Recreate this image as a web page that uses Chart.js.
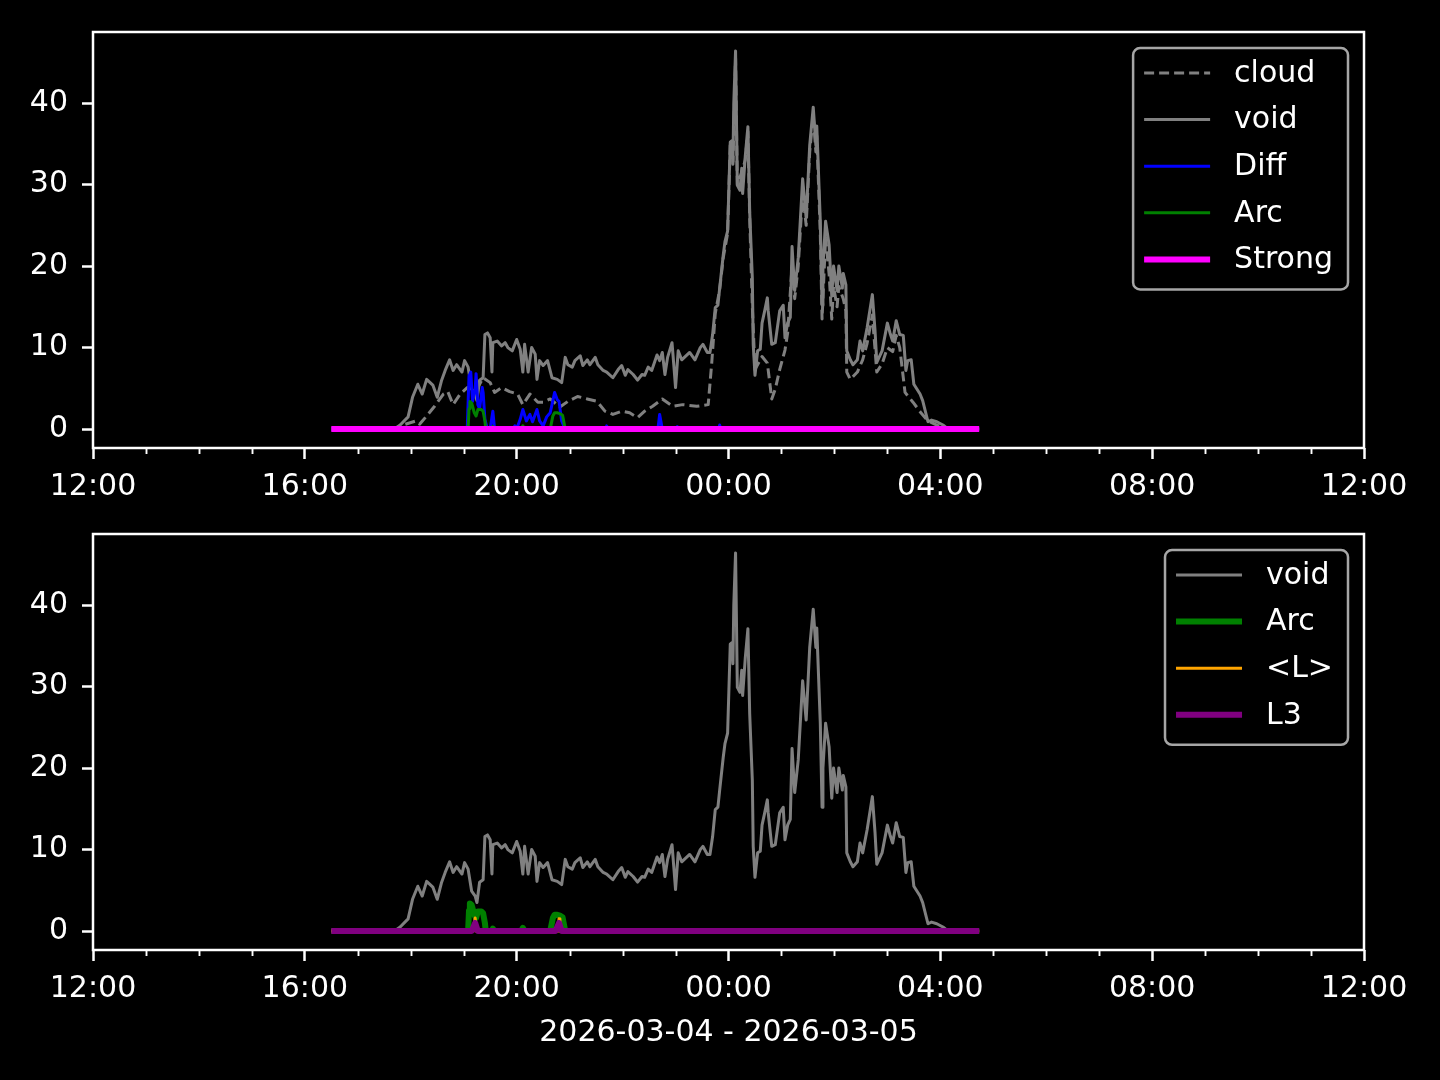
<!DOCTYPE html>
<html>
<head>
<meta charset="utf-8">
<script src="https://cdn.jsdelivr.net/npm/chart.js@4.4.1/dist/chart.umd.min.js"></script>
<style>
    html, body { margin: 0; padding: 0; background: #000; }
    #lienzo { position: relative; width: 1440px; height: 1080px; background: #000; overflow: hidden; }
    #graficoSuperior { position: absolute; left: 0; top: 0; }
    #graficoInferior { position: absolute; left: 0; top: 490px; }
</style>
</head>
<body>
<div id="lienzo">
    <canvas id="graficoSuperior" width="1440" height="520"></canvas>
    <canvas id="graficoInferior" width="1440" height="590"></canvas>
</div>
<script>
// Ejes
const xTickLabels = ['12:00', '16:00', '20:00', '00:00', '04:00', '08:00', '12:00'];
const yTicks = [0, 10, 20, 30, 40];
const xTitulo = '2026-03-04 - 2026-03-05';

// void
const voidTimes = ['16:30','17:38','17:44','17:48','17:57','18:02','18:08','18:13','18:18','18:22','18:25','18:30','18:35','18:39','18:44','18:48','18:52','18:58','19:01','19:05','19:09','19:13','19:15','19:18','19:22','19:24','19:27','19:30','19:32','19:33','19:38','19:43','19:47','19:50','19:55','20:00','20:04','20:07','20:09','20:13','20:17','20:21','20:23','20:26','20:30','20:35','20:40','20:46','20:51','20:55','20:58','21:03','21:06','21:12','21:15','21:20','21:23','21:29','21:32','21:38','21:42','21:49','21:55','21:59','22:03','22:06','22:12','22:17','22:22','22:25','22:29','22:33','22:39','22:42','22:45','22:48','22:51','22:56','22:58','23:00','23:03','23:07','23:13','23:16','23:22','23:28','23:31','23:36','23:39','23:42','23:45','23:48','23:50','23:54','23:56','23:59','00:02','00:04','00:05','00:06','00:08','00:10','00:13','00:15','00:16','00:19','00:22','00:24','00:27','00:28','00:30','00:33','00:36','00:38','00:41','00:44','00:45','00:49','00:53','00:58','01:02','01:04','01:07','01:10','01:12','01:15','01:19','01:24','01:28','01:32','01:36','01:39','01:40','01:44','01:46','01:47','01:50','01:54','01:57','01:59','02:03','02:05','02:09','02:10','02:13','02:14','02:18','02:21','02:26','02:29','02:32','02:37','02:43','02:46','02:48','02:54','03:00','03:03','03:06','03:10','03:14','03:18','03:21','03:23','03:27','03:30','03:37','03:40','03:46','03:50','03:56','04:03','04:09','04:44'];
const voidValues = [0,0,0.2,0.5,1.5,3.9,5.5,4.3,6.1,5.7,5.4,3.9,6.0,7.2,8.5,7.2,7.9,7.0,8.4,7.6,4.9,4.3,3.5,6.0,6.3,11.6,11.8,11.2,7.0,10.6,10.8,10.2,10.6,10.0,9.6,11.0,9.8,7.0,10.4,7.0,10.0,9.2,6.1,8.4,7.8,8.4,6.3,6.1,5.7,8.8,7.9,7.6,8.4,9.0,7.8,8.5,7.9,8.8,7.9,7.2,7.0,6.3,7.3,7.8,6.6,7.3,6.7,6.0,6.7,6.6,7.6,7.2,9.1,8.4,9.4,6.7,8.8,10.6,7.9,5.1,9.6,8.5,9.1,9.4,8.5,10.0,10.4,9.4,9.4,11.6,14.9,15.2,17.3,21.3,23.0,24.3,35.2,35.4,32.8,40.0,46.4,29.9,29.3,32.0,28.9,33.5,37.1,26.7,18.5,10.4,6.6,9.6,9.8,13.0,14.5,16.1,14.5,10.4,10.6,14.5,15.2,11.2,13.0,13.7,22.4,17.0,21.0,30.7,25.9,34.8,39.5,34.8,37.2,25.5,15.2,20.0,25.5,22.6,16.3,20.0,17.0,20.0,17.3,19.1,17.7,9.6,8.5,7.9,8.5,10.8,9.6,12.4,16.5,12.1,8.2,9.6,13.0,11.8,10.8,13.3,11.6,11.5,7.2,8.4,8.5,5.5,4.3,3.5,0.9,1.1,0.9,0.5,0,0];

// cloud
const cloudTimes = ['16:30','17:40','17:48','18:06','18:10','18:18','18:27','18:37','18:42','18:48','18:56','19:04','19:15','19:22','19:30','19:35','19:43','19:52','20:01','20:07','20:15','20:24','20:30','20:38','20:49','20:58','21:09','21:20','21:31','21:40','21:49','21:59','22:08','22:17','22:25','22:34','22:45','22:57','23:08','23:24','23:37','23:41','23:45','23:50','23:54','23:59','00:02','00:05','00:08','00:10','00:15','00:19','00:22','00:24','00:27','00:30','00:36','00:38','00:44','00:49','00:53','00:58','01:04','01:07','01:12','01:15','01:19','01:24','01:28','01:32','01:36','01:39','01:40','01:44','01:46','01:50','01:54','01:57','01:59','02:03','02:05','02:10','02:13','02:14','02:18','02:26','02:32','02:37','02:43','02:48','02:54','03:00','03:06','03:10','03:14','03:20','03:29','03:38','03:46','03:56','04:05','04:44'];
const cloudValues = [0,0,0.4,1.0,0.6,1.6,2.8,4.3,4.6,3.0,4.3,5.1,4.9,6.3,5.7,4.5,5.1,4.6,4.3,3.0,4.3,3.3,3.3,3.7,2.7,3.4,4.0,3.7,3.4,2.2,1.8,2.2,2.0,1.4,2.2,2.8,3.7,2.8,3.0,2.8,3.0,8.1,14.2,17.1,21.0,24.0,35.0,32.5,45.5,30.0,31.5,33.0,36.5,26.0,15.0,7.3,8.5,8.9,8.1,3.7,4.9,7.3,9.7,11.8,20.0,16.0,20.0,29.0,25.0,34.0,38.5,34.0,36.0,24.0,13.5,23.5,19.0,13.5,17.5,15.0,17.5,16.0,14.5,7.0,6.1,7.0,8.5,10.5,14.0,7.0,8.0,10.0,9.5,11.5,10.0,4.5,3.3,2.0,1.0,0.5,0,0];

// Diff
const diffTimes = ['16:30','19:04','19:06','19:08','19:10','19:13','19:14','19:16','19:18','19:21','19:22','19:24','19:26','19:30','19:33','19:35','19:56','19:58','20:00','20:04','20:07','20:11','20:15','20:18','20:23','20:26','20:30','20:34','20:38','20:41','20:43','20:46','20:48','20:51','20:55','21:41','21:42','21:43','22:40','22:42','22:45','23:00','23:02','23:03','23:49','23:50','23:51','04:44'];
const diffValues = [0,0,6.5,7.0,3.4,4.9,6.8,3.0,2.5,5.1,4.5,1.2,0.3,0,2.2,0,0,0.4,0,1.2,2.4,1.0,1.8,0.9,2.4,1.0,0.4,1.5,2.0,3.5,4.5,3.6,3.4,1.0,0,0,0.4,0,0,1.8,0,0,0.3,0,0,0.5,0,0];

// Arc
const arcTimes = ['16:30','19:05','19:06','19:07','19:09','19:12','19:14','19:16','19:20','19:22','19:24','19:25','19:32','19:33','19:35','20:05','20:07','20:09','20:38','20:41','20:43','20:46','20:49','20:52','20:55','04:44'];
const arcValues = [0,0,2.5,3.4,3.2,2.0,1.6,2.4,2.4,2.2,1.0,0,0,0.3,0,0,0.4,0,0,1.6,2.0,2.0,1.9,1.7,0,0];

// Strong
const strongTimes = ['16:30','04:44'];
const strongValues = [0, 0];

// <L>
const lMediaTimes = ['16:30','19:11','19:13','19:14','20:47','20:48','20:49','04:44'];
const lMediaValues = [0,0,1.6,0,0,1.5,0,0];

// L3
const l3Times = ['16:30','19:09','19:13','19:16','20:44','20:48','20:51','04:44'];
const l3Values = [0,0,1.0,0,0,1.0,0,0];

const FUENTE = '"DejaVu Sans", "Liberation Sans", sans-serif';
Chart.defaults.font.family = FUENTE;
Chart.defaults.font.size = 30;
Chart.defaults.color = '#ffffff';

// minutos desde las 12:00 del primer dia
function aMinutos(hhmm) {
    const [h, m] = hhmm.split(':').map(Number);
    let t = h * 60 + m - 720;
    if (t < 0) t += 1440;
    return t;
}

function prepararPuntos(tiempos, valores) {
    return tiempos.map((t, i) => ({ x: aMinutos(t), y: valores[i] }));
}

function serie(label, tiempos, valores, color, ancho, orden, dash) {
    return {
        label: label,
        data: prepararPuntos(tiempos, valores),
        borderColor: color,
        backgroundColor: color,
        borderWidth: ancho,
        borderDash: dash || [],
        borderJoinStyle: 'round',
        pointRadius: 0,
        tension: 0,
        fill: false,
        order: orden
    };
}

// Marco, ticks menores y leyenda estilo matplotlib
const marcoPlugin = {
    id: 'marco',
    afterDraw(chart) {
        const { ctx, chartArea, scales } = chart;
        ctx.save();
        ctx.strokeStyle = '#ffffff';
        ctx.lineWidth = 1.9;
        for (let h = 1; h < 24; h++) {
            if (h % 4 === 0) continue;
            const x = Math.round(scales.x.getPixelForValue(h * 60)) + 0.5;
            ctx.beginPath();
            ctx.moveTo(x, chartArea.bottom);
            ctx.lineTo(x, chartArea.bottom + 6);
            ctx.stroke();
        }
        ctx.lineWidth = 2.5;
        ctx.strokeRect(chartArea.left, chartArea.top, chartArea.right - chartArea.left, chartArea.bottom - chartArea.top);
        ctx.restore();
    }
};

const leyendaPlugin = {
    id: 'leyenda',
    afterDraw(chart) {
        const { ctx, chartArea } = chart;
        const items = chart.data.datasets;
        const fila = 46.6;
        ctx.save();
        ctx.font = '30px ' + FUENTE;
        const anchoTexto = Math.max(...items.map(d => ctx.measureText(d.label).width));
        const ancho = 101 + anchoTexto + 15;
        const alto = 25 + (items.length - 1) * fila + 30;
        const x0 = chartArea.right - 16 - ancho;
        const y0 = chartArea.top + 16;

        ctx.beginPath();
        ctx.roundRect(x0, y0, ancho, alto, 7);
        ctx.fillStyle = 'rgba(0,0,0,0.8)';
        ctx.fill();
        ctx.strokeStyle = '#a6a6a6';
        ctx.lineWidth = 2.5;
        ctx.stroke();

        items.forEach((d, i) => {
            const cy = y0 + 25 + i * fila;
            ctx.beginPath();
            ctx.setLineDash(d.borderDash || []);
            ctx.strokeStyle = d.borderColor;
            ctx.lineWidth = d.borderWidth;
            ctx.moveTo(x0 + 11, cy);
            ctx.lineTo(x0 + 77, cy);
            ctx.stroke();
            ctx.setLineDash([]);
            ctx.fillStyle = '#ffffff';
            ctx.textBaseline = 'middle';
            ctx.textAlign = 'left';
            ctx.fillText(d.label, x0 + 101, cy + 1);
        });
        ctx.restore();
    }
};

function crearGrafico(id, datasets, altoEjeX, conTitulo, padTop) {
    const ctx = document.getElementById(id).getContext('2d');
    return new Chart(ctx, {
        type: 'line',
        data: { datasets: datasets },
        options: {
            responsive: false,
            animation: false,
            parsing: false,
            layout: { padding: { top: padTop, right: 76, left: 0, bottom: 0 } },
            plugins: {
                legend: { display: false },
                tooltip: { enabled: false }
            },
            scales: {
                x: {
                    type: 'linear',
                    min: 0,
                    max: 1440,
                    afterFit: s => { s.height = altoEjeX; },
                    afterBuildTicks: s => { s.ticks = xTickLabels.map((l, i) => ({ value: i * 240 })); },
                    ticks: {
                        callback: (v, i) => xTickLabels[i],
                        autoSkip: false,
                        maxRotation: 0,
                        padding: 10,
                        color: '#ffffff'
                    },
                    grid: { drawOnChartArea: false, tickLength: 11, tickWidth: 2.5, tickColor: '#ffffff' },
                    border: { display: false },
                    title: {
                        display: conTitulo,
                        text: xTitulo,
                        color: '#ffffff',
                        font: { size: 30 },
                        padding: { top: 0, bottom: 29 }
                    }
                },
                y: {
                    type: 'linear',
                    min: -2.32,
                    max: 48.72,
                    afterFit: s => { s.width = 93; },
                    afterBuildTicks: s => { s.ticks = yTicks.map(v => ({ value: v })); },
                    ticks: { padding: 14, color: '#ffffff' },
                    grid: { drawOnChartArea: false, tickLength: 11, tickWidth: 2.5, tickColor: '#ffffff' },
                    border: { display: false }
                }
            }
        },
        plugins: [marcoPlugin, leyendaPlugin]
    });
}

crearGrafico('graficoSuperior', [
    serie('cloud', cloudTimes, cloudValues, '#808080', 3, 5, [10, 5]),
    serie('void', voidTimes, voidValues, '#808080', 3, 4),
    serie('Diff', diffTimes, diffValues, '#0000ff', 3, 3),
    serie('Arc', arcTimes, arcValues, '#008000', 3, 2),
    serie('Strong', strongTimes, strongValues, '#ff00ff', 6, 1)
], 72, false, 31);

crearGrafico('graficoInferior', [
    serie('void', voidTimes, voidValues, '#808080', 3, 4),
    serie('Arc', arcTimes, arcValues, '#008000', 6, 3),
    serie('<L>', lMediaTimes, lMediaValues, '#ffa500', 3, 2),
    serie('L3', l3Times, l3Values, '#800080', 6, 1)
], 130, true, 44);
</script>
</body>
</html>
